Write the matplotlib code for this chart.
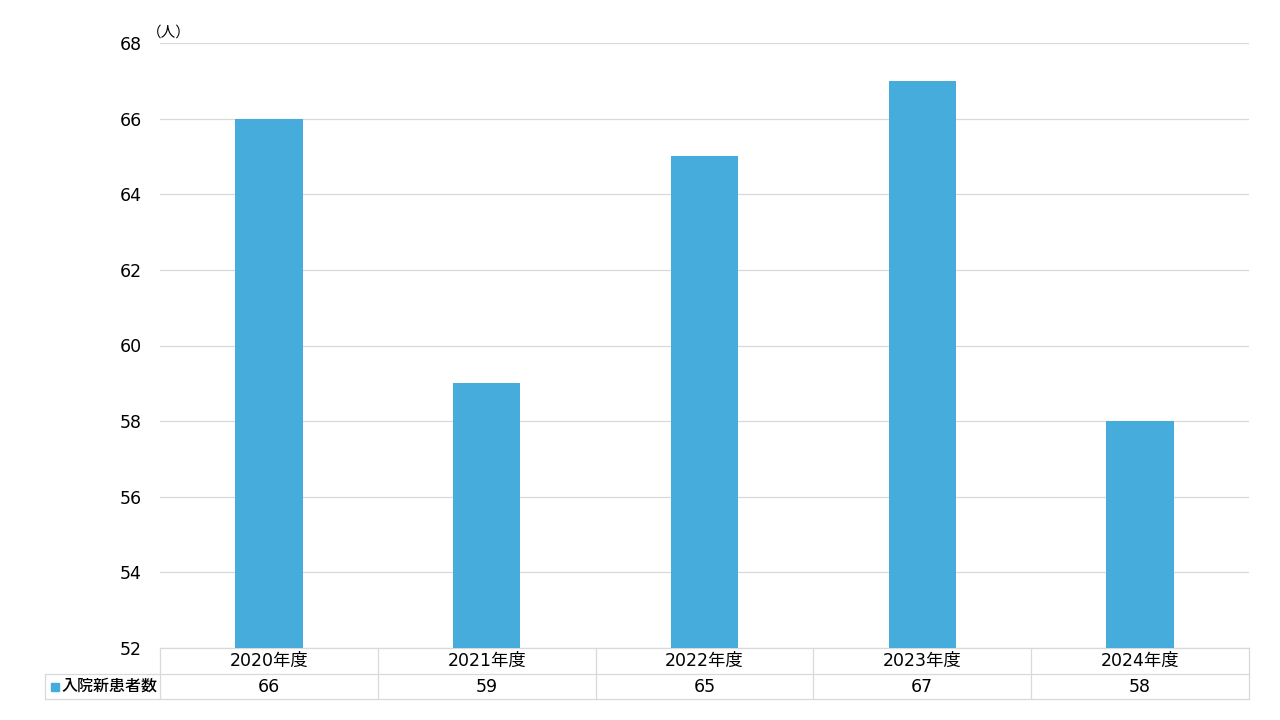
import matplotlib.pyplot as plt
import matplotlib.transforms as mtransforms

plt.rcParams['font.family'] = ['DejaVu Sans', 'Noto Sans CJK JP']

categories = ['2020年度', '2021年度', '2022年度', '2023年度', '2024年度']
patients = [66, 59, 65, 67, 58]
series_name = '入院新患者数'
unit = '（人）'

bar_color = '#45ACDC'
line_color = '#D9D9D9'

fig = plt.figure(figsize=(12.8, 7.2), dpi=100)
ax = fig.add_axes([160 / 1280, 1 - 648 / 720, 1089 / 1280, 605 / 720])

x = list(range(len(categories)))
ax.bar(x, patients, width=0.31, color=bar_color, zorder=3)
ax.set_xlim(-0.5, len(categories) - 0.5)
ax.set_ylim(52, 68)
ax.set_yticks(range(52, 69, 2))
ax.tick_params(axis='y', length=0, labelsize=12.5, pad=13)
ax.set_xticks([])
ax.yaxis.grid(True, color=line_color, linewidth=0.9, zorder=0)
for s in ax.spines.values():
    s.set_visible(False)

trans = mtransforms.blended_transform_factory(ax.transData, ax.transAxes)
ax.text(-0.56, 1.005, unit, transform=trans, fontsize=10.5, ha='left', va='bottom',
        family=['Noto Sans CJK JP', 'DejaVu Sans'])

# data table below the axis
row1 = -26 / 605
row2 = -51 / 605
left_x = -0.5 - (115 / 1089) * len(categories)
lw = 0.9
ax.plot([-0.5, 4.5], [0, 0], transform=trans, color=line_color, lw=lw, clip_on=False)
ax.plot([left_x, 4.5], [row1, row1], transform=trans, color=line_color, lw=lw, clip_on=False)
ax.plot([left_x, 4.5], [row2, row2], transform=trans, color=line_color, lw=lw, clip_on=False)
for i in range(len(categories) + 1):
    ax.plot([i - 0.5, i - 0.5], [0, row2], transform=trans, color=line_color, lw=lw, clip_on=False)
ax.plot([left_x, left_x], [row1, row2], transform=trans, color=line_color, lw=lw, clip_on=False)

for i, (c, v) in enumerate(zip(categories, patients)):
    ax.text(i, row1 / 2, c, transform=trans, ha='center', va='center', fontsize=12.5)
    ax.text(i, (row1 + row2) / 2, str(v), transform=trans, ha='center', va='center', fontsize=12.5)

ax.plot([left_x + 0.045], [(row1 + row2) / 2], transform=trans, marker='s', color=bar_color,
        markersize=5.5, clip_on=False)
ax.text(left_x + 0.075, (row1 + row2) / 2, series_name, transform=trans, ha='left', va='center',
        fontsize=11.5, fontweight='medium', family=['Noto Sans CJK JP', 'DejaVu Sans'])

fig.savefig('out.png', dpi=100)
